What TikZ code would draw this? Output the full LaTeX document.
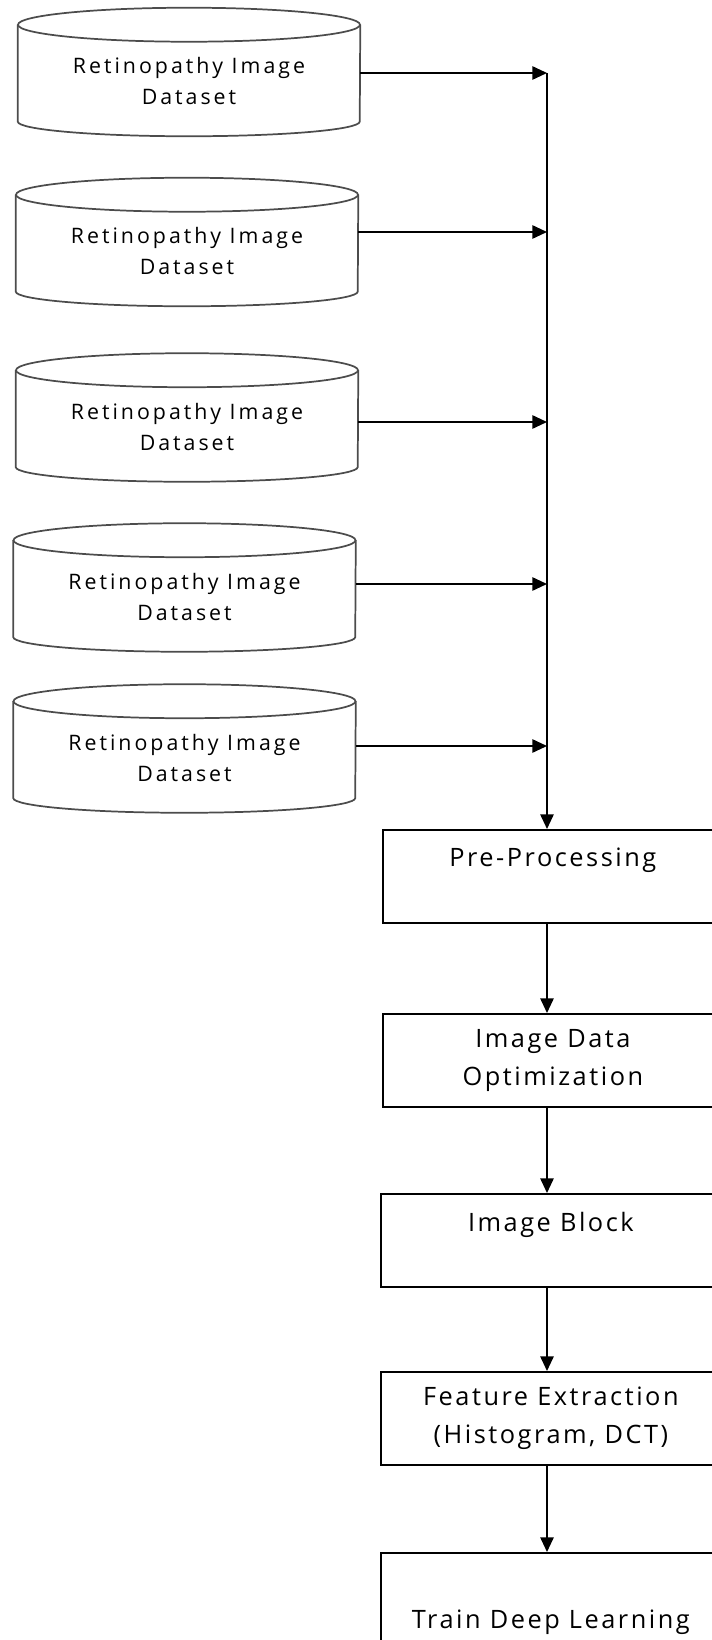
\documentclass[tikz,border=0pt]{standalone}
\usepackage{fontspec}
\setmainfont{Open Sans}[LetterSpace=10]
\newfontfamily\dsfont{Open Sans}[LetterSpace=14]
\usetikzlibrary{arrows.meta}

\tikzset{
  dataset/.style={rectangle, minimum width=256.5pt, minimum height=96pt, inner sep=0pt},
  dsline/.style={draw=black!70, line width=1.3pt},
  dslabel/.style={align=center, yshift=-6.75pt, font=\dsfont\fontsize{16}{23.25}\selectfont},
  procbox/.style={draw, line width=1.3pt, anchor=north west, minimum width=255pt,
    minimum height=69.75pt, inner sep=0pt, align=center,
    font=\fontsize{19}{28.5}\selectfont},
  flow/.style={line width=1.3pt, -{Triangle[length=11pt,width=10pt]}}
}

\begin{document}
\begin{tikzpicture}[x=0.75pt,y=-0.75pt]
\useasboundingbox (0,0) rectangle (712,1640);
% image sources
\node[dataset,label={[dslabel]center:{Retinopathy Image\\Dataset}}] (ds1) at (189,72) {};
\node[dataset,label={[dslabel]center:{Retinopathy Image\\Dataset}}] (ds2) at (187,242) {};
\node[dataset,label={[dslabel]center:{Retinopathy Image\\Dataset}}] (ds3) at (187,417.5) {};
\node[dataset,label={[dslabel]center:{Retinopathy Image\\Dataset}}] (ds4) at (184.5,587.5) {};
\node[dataset,label={[dslabel]center:{Retinopathy Image\\Dataset}}] (ds5) at (184.5,748.5) {};
% drum outlines around them
\foreach \d in {ds1,ds2,ds3,ds4,ds5} {
  \draw[dsline] ([yshift=-12.75pt]\d.north) ellipse [x radius=128.25pt, y radius=12.75pt];
  \draw[dsline] ([yshift=-12.75pt]\d.north west) -- ([yshift=11pt]\d.south west)
    arc [start angle=180, end angle=360, x radius=128.25pt, y radius=11pt]
    -- ([yshift=-12.75pt]\d.north east);
}
% taps on the collecting line
\coordinate (j1) at (547,73);
\coordinate (j2) at (547,232);
\coordinate (j3) at (547,422);
\coordinate (j4) at (547,584);
\coordinate (j5) at (547,746);
% processing chain
\node[procbox] (pre) at (382,829) {Pre-Processing\\\mbox{}};
\node[procbox] (opt) at (382,1013) {Image Data\\Optimization};
\node[procbox] (blk) at (380,1193) {Image Block\\\mbox{}};
\node[procbox] (feat) at (380,1371) {Feature Extraction\\(Histogram, DCT)};
\node[procbox] (train) at (380,1552) {\mbox{}\\[19pt]Train Deep Learning};
% connectors
\draw[flow] (ds1.east |- j1) -- (j1);
\draw[flow] (ds2.east |- j2) -- (j2);
\draw[flow] (ds3.east |- j3) -- (j3);
\draw[flow] (ds4.east |- j4) -- (j4);
\draw[flow] (ds5.east |- j5) -- (j5);
\draw[flow] (j1) -- (pre.north -| j1);
\draw[flow] (pre.south -| j1) -- (opt.north -| j1);
\draw[flow] (opt.south -| j1) -- (blk.north -| j1);
\draw[flow] (blk.south -| j1) -- (feat.north -| j1);
\draw[flow] (feat.south -| j1) -- (train.north -| j1);
\end{tikzpicture}
\end{document}
